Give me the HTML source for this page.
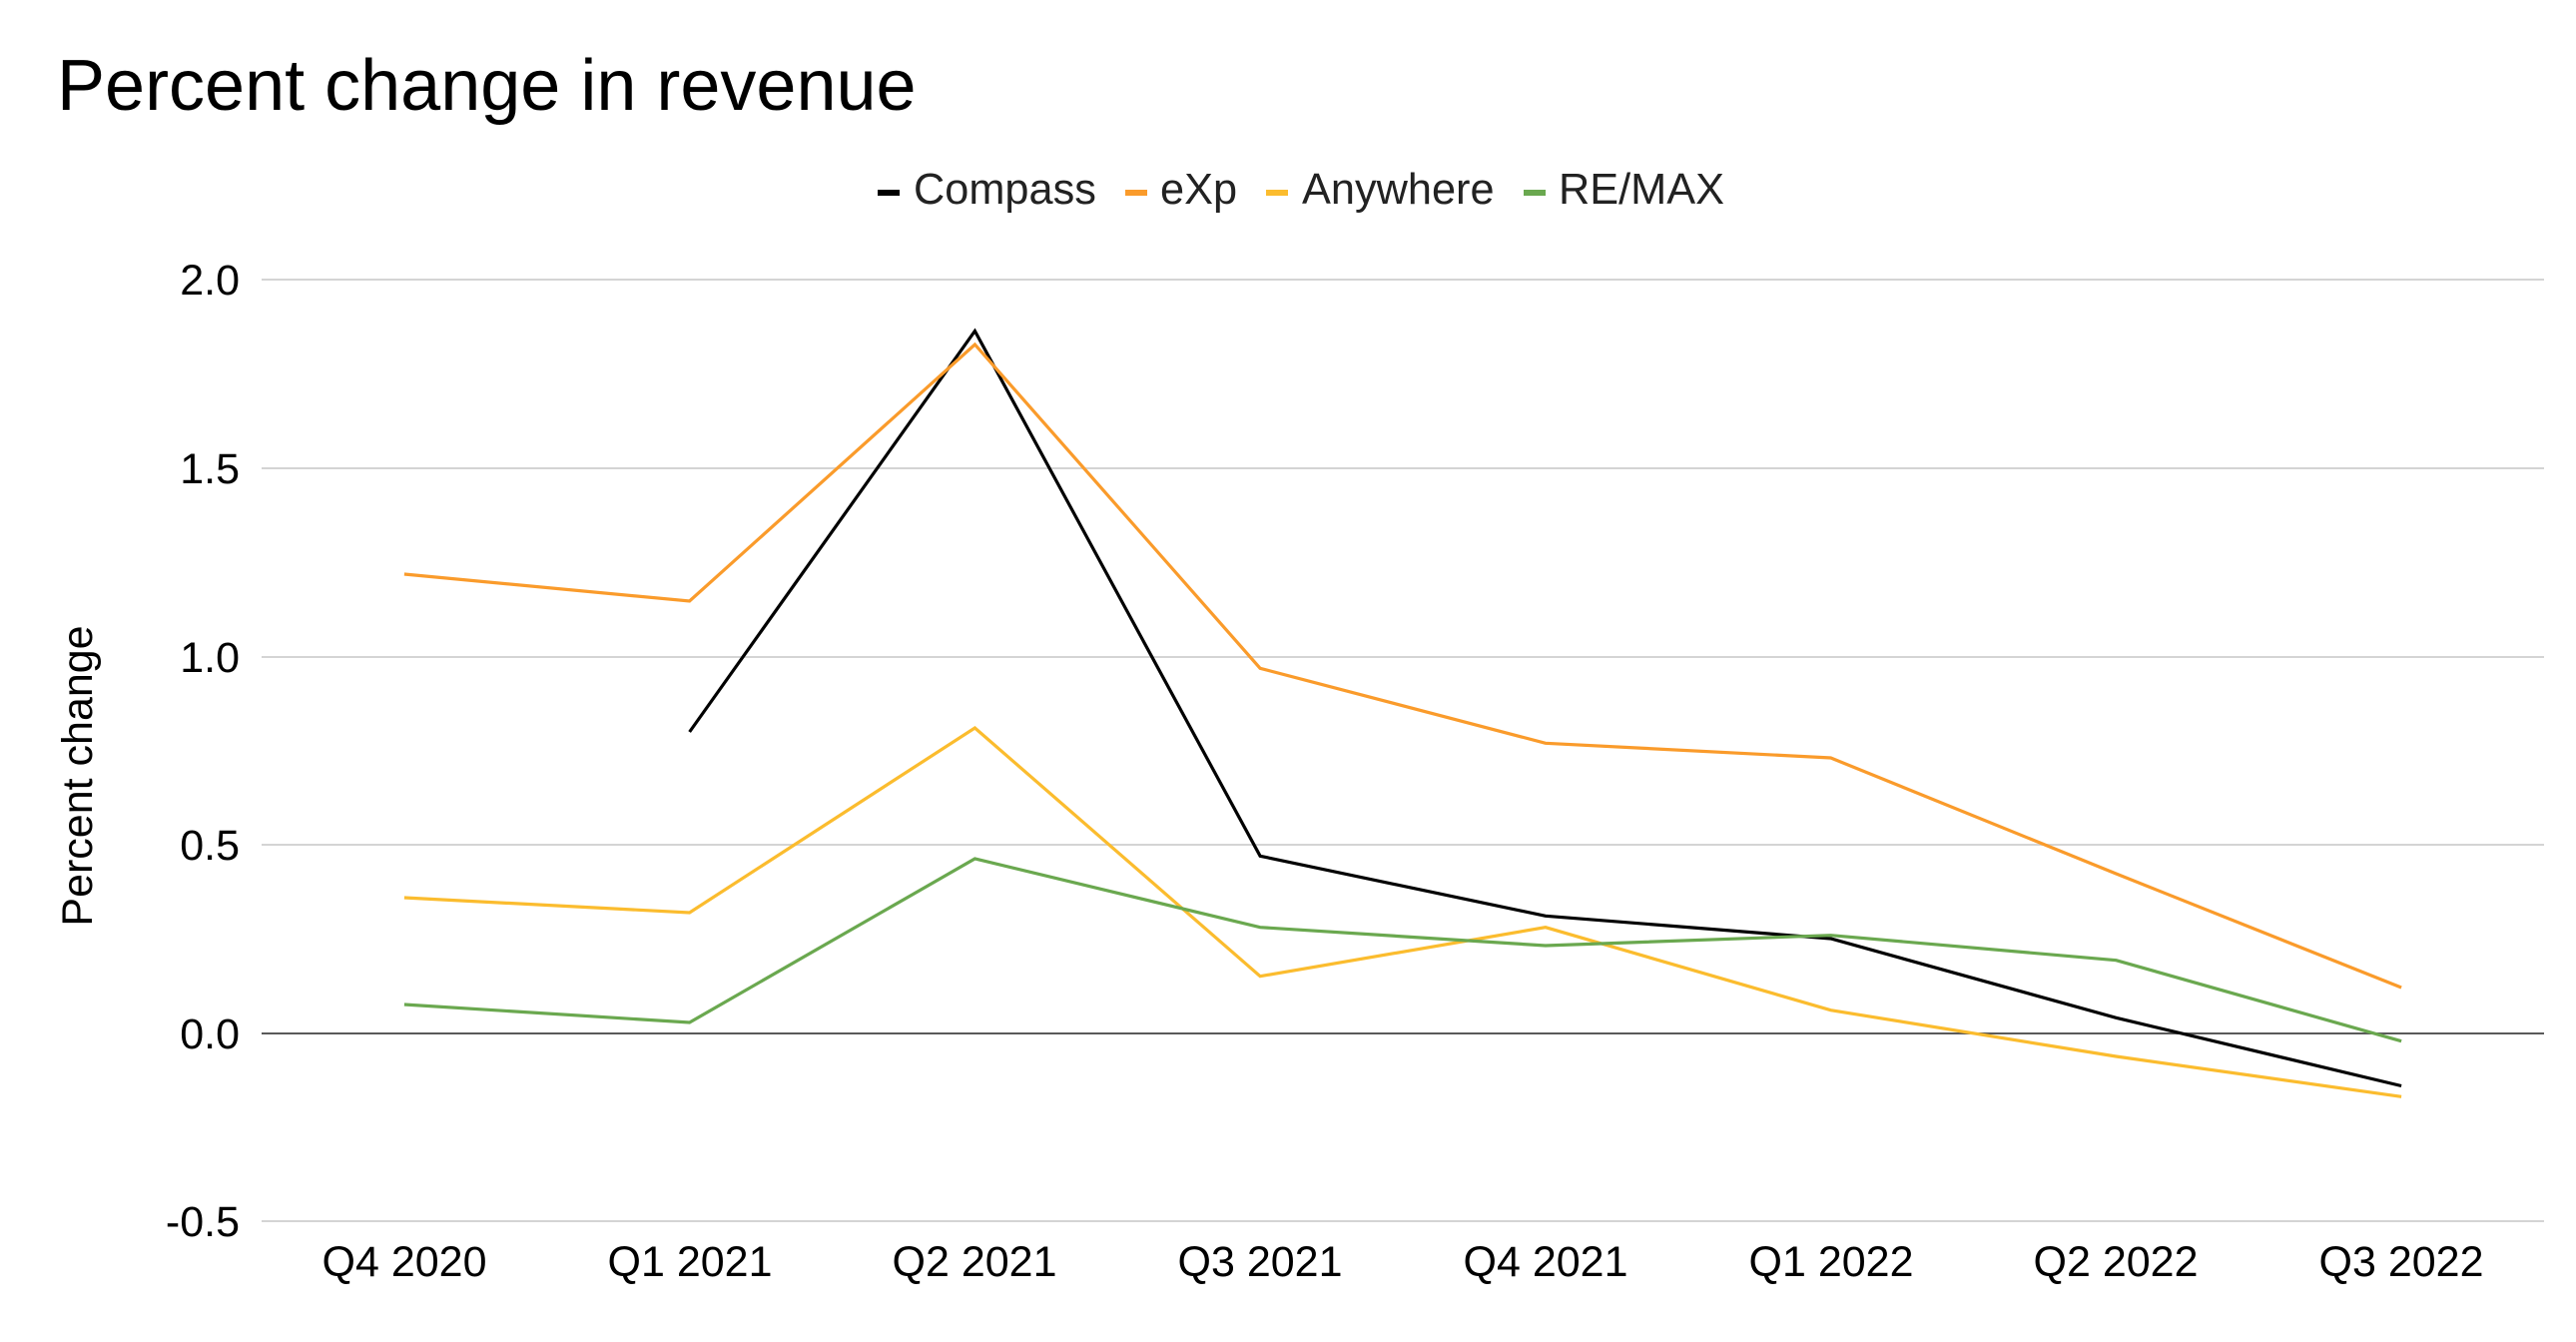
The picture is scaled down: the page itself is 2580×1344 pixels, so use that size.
<!DOCTYPE html>
<html>
<head>
<meta charset="utf-8">
<style>
  html, body { margin: 0; padding: 0; background: #ffffff; }
  body { width: 2580px; height: 1344px; overflow: hidden; }
  svg { display: block; }
  text { font-family: "Liberation Sans", Arial, sans-serif; }
</style>
</head>
<body>
<svg width="2580" height="1344" viewBox="0 0 2580 1344" xmlns="http://www.w3.org/2000/svg">
  <rect x="0" y="0" width="2580" height="1344" fill="#ffffff"/>

  <!-- Title -->
  <text x="57" y="110" font-size="72" fill="#000000">Percent change in revenue</text>

  <!-- Legend -->
  <rect x="879" y="190" width="22" height="6" fill="#000000"/>
  <text x="915" y="204" font-size="43.3" fill="#222222">Compass</text>
  <rect x="1127" y="190" width="22" height="6" fill="#fa9b2b"/>
  <text x="1162" y="204" font-size="43.3" fill="#222222">eXp</text>
  <rect x="1268" y="190" width="22" height="6" fill="#fbbc2e"/>
  <text x="1304" y="204" font-size="43.3" fill="#222222">Anywhere</text>
  <rect x="1526" y="190" width="22" height="6" fill="#6aa84f"/>
  <text x="1561" y="204" font-size="43.3" fill="#222222">RE/MAX</text>

  <!-- Gridlines -->
  <g stroke="#d4d4d4" stroke-width="2">
    <line x1="262" y1="280" x2="2548" y2="280"/>
    <line x1="262" y1="469" x2="2548" y2="469"/>
    <line x1="262" y1="658" x2="2548" y2="658"/>
    <line x1="262" y1="846" x2="2548" y2="846"/>
    <line x1="262" y1="1223" x2="2548" y2="1223"/>
  </g>
  <line x1="262" y1="1035" x2="2548" y2="1035" stroke="#5a5a5a" stroke-width="2"/>

  <!-- Y tick labels -->
  <g font-size="43" fill="#000000" text-anchor="end">
    <text x="240" y="295">2.0</text>
    <text x="240" y="484">1.5</text>
    <text x="240" y="673">1.0</text>
    <text x="240" y="861">0.5</text>
    <text x="240" y="1050">0.0</text>
    <text x="240" y="1238">-0.5</text>
  </g>

  <!-- Y axis title -->
  <text x="0" y="0" font-size="43" fill="#000000" text-anchor="middle" transform="translate(92,777) rotate(-90)">Percent change</text>

  <!-- X tick labels -->
  <g font-size="43" fill="#000000" text-anchor="middle">
    <text x="405" y="1278">Q4 2020</text>
    <text x="691" y="1278">Q1 2021</text>
    <text x="976" y="1278">Q2 2021</text>
    <text x="1262" y="1278">Q3 2021</text>
    <text x="1548" y="1278">Q4 2021</text>
    <text x="1834" y="1278">Q1 2022</text>
    <text x="2119" y="1278">Q2 2022</text>
    <text x="2405" y="1278">Q3 2022</text>
  </g>

  <!-- Series -->
  <g fill="none" stroke-width="3.2" stroke-linejoin="miter" stroke-linecap="butt">
    <polyline stroke="#000000" points="690.6,733 976.4,331.5 1262.1,857.3 1547.9,917.3 1833.6,940 2119.4,1019.3 2405.1,1087.5"/>
    <polyline stroke="#fa9b2b" points="404.9,575 690.6,602 976.4,345 1262.1,669.3 1547.9,744.3 1833.6,759 2119.4,875 2405.1,989"/>
    <polyline stroke="#fbbc2e" points="404.9,899 690.6,914 976.4,729 1262.1,977.7 1547.9,928.7 1833.6,1011.7 2119.4,1058 2405.1,1098.3"/>
    <polyline stroke="#6aa84f" points="404.9,1006 690.6,1024 976.4,860 1262.1,928.7 1547.9,947 1833.6,936.7 2119.4,961.7 2405.1,1042.7"/>
  </g>
</svg>
</body>
</html>
